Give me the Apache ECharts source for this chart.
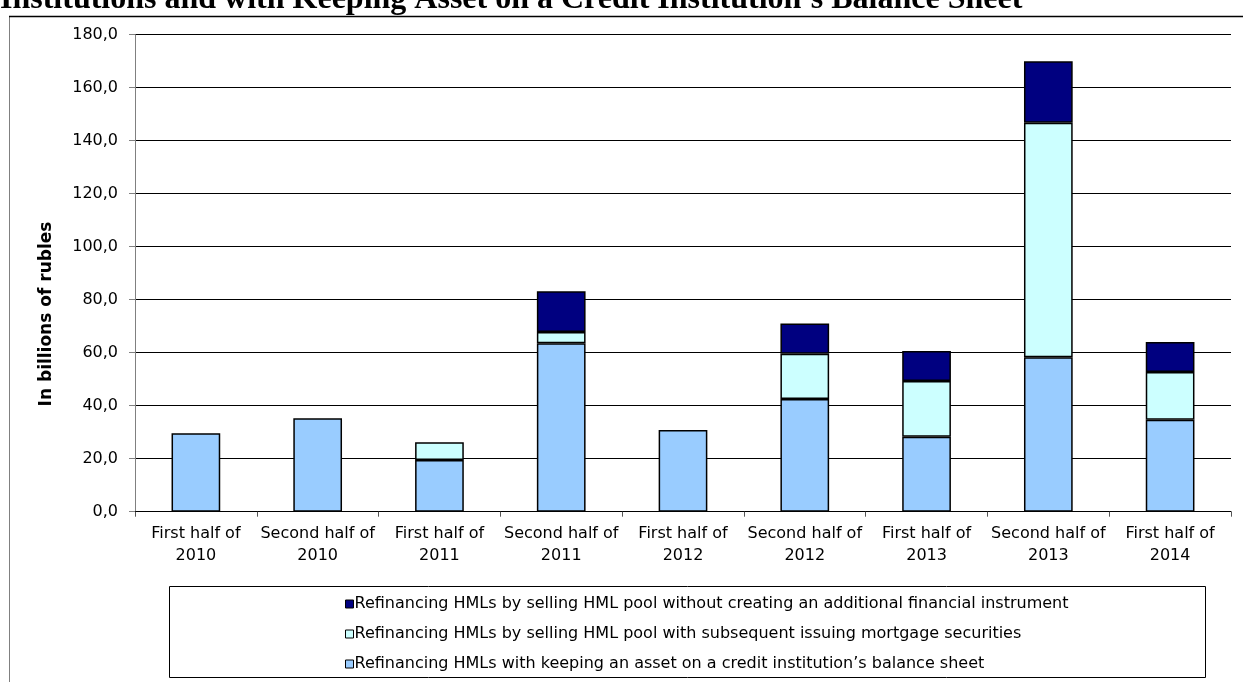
<!DOCTYPE html>
<html>
<head>
<meta charset="utf-8">
<script src="https://cdn.jsdelivr.net/npm/echarts@6/dist/echarts.min.js"></script>
<style>
html,body{margin:0;padding:0;background:#fff;}
#chart{width:1243px;height:682px;}
</style>
</head>
<body>
<div id="chart"></div>
<script>
const titleText = "Institutions and with Keeping Asset on a Credit Institution\u2019s Balance Sheet";
const yAxisName = "In billions of rubles";
const categories = [
  "First half of\n2010", "Second half of\n2010", "First half of\n2011",
  "Second half of\n2011", "First half of\n2012", "Second half of\n2012",
  "First half of\n2013", "Second half of\n2013", "First half of\n2014"
];
const seriesNames = [
  "Refinancing HMLs by selling HML pool without creating an additional financial instrument",
  "Refinancing HMLs by selling HML pool with subsequent issuing mortgage securities",
  "Refinancing HMLs with keeping an asset on a credit institution\u2019s balance sheet"
];
const keepingOnBalance = [29.6, 35.3, 19.5, 63.6, 30.8, 42.5, 28.3, 58.3, 34.7];
const withSecurities   = [0, 0, 6.7, 4.2, 0, 17.1, 21.0, 88.5, 18.0];
const withoutInstrument = [0, 0, 0, 15.4, 0, 11.4, 11.3, 23.2, 11.3];
const yTicks = { min: 0, max: 180, interval: 20 };

const FONT = '"DejaVu Sans", "Liberation Sans", Arial, sans-serif';
const chart = echarts.init(document.getElementById('chart'), null, {renderer: 'canvas'});
const border = {borderColor: '#000', borderWidth: 1.5};
const option = {
  animation: false,
  backgroundColor: '#fff',
  textStyle: {fontFamily: FONT},
  grid: {left: 135, right: 12, top: 34.7, bottom: 170.3},
  legend: {
    orient: 'vertical',
    left: 340,
    top: 591,
    itemWidth: 8,
    itemHeight: 8,
    itemGap: 14,
    icon: 'rect',
    data: [
      {name: seriesNames[0], itemStyle: {color: '#000080', borderColor: '#000', borderWidth: 1}},
      {name: seriesNames[1], itemStyle: {color: '#CCFFFF', borderColor: '#000', borderWidth: 1}},
      {name: seriesNames[2], itemStyle: {color: '#99CCFF', borderColor: '#000', borderWidth: 1}}
    ],
    textStyle: {fontSize: 16, color: '#000', lineHeight: 16, padding: [0, 0, 0, -4], fontFamily: FONT}
  },
  xAxis: {
    type: 'category',
    data: categories,
    axisLine: {lineStyle: {color: '#000', width: 1}},
    axisTick: {show: true, length: 5, lineStyle: {color: '#555'}},
    axisLabel: {fontSize: 16, color: '#000', lineHeight: 22, margin: 11, interval: 0, fontFamily: FONT}
  },
  yAxis: {
    type: 'value',
    min: yTicks.min, max: yTicks.max, interval: yTicks.interval,
    axisLine: {show: true, lineStyle: {color: '#808080', width: 1}},
    axisTick: {show: true, length: 6, lineStyle: {color: '#808080'}},
    splitLine: {lineStyle: {color: '#000', width: 1}},
    axisLabel: {fontSize: 16, color: '#000', margin: 17, fontFamily: FONT,
      formatter: v => v.toFixed(1).replace('.', ',')}
  },
  series: [
    {name: seriesNames[2], type: 'bar', stack: 's', barWidth: '40%', data: keepingOnBalance,
      itemStyle: Object.assign({color: '#99CCFF'}, border)},
    {name: seriesNames[1], type: 'bar', stack: 's', barWidth: '40%', data: withSecurities,
      itemStyle: Object.assign({color: '#CCFFFF'}, border)},
    {name: seriesNames[0], type: 'bar', stack: 's', barWidth: '40%', data: withoutInstrument,
      itemStyle: Object.assign({color: '#000080'}, border)}
  ],
  graphic: [
    {type: 'line', shape: {x1: 9.5, y1: 17, x2: 9.5, y2: 700}, style: {stroke: '#808080', lineWidth: 1}, silent: true},
    {type: 'line', shape: {x1: 9, y1: 16.5, x2: 1243, y2: 16.5}, style: {stroke: '#000', lineWidth: 1.5}, silent: true},
    {type: 'rect', shape: {x: 169.5, y: 586.5, width: 1036, height: 91}, style: {fill: 'none', stroke: '#000', lineWidth: 1}, silent: true, z: -1},
    {type: 'text', x: 0, y: 16, style: {text: titleText, font: 'bold 32px "Liberation Serif", "Times New Roman", serif', fill: '#000', verticalAlign: 'bottom', align: 'left'}, silent: true},
    {type: 'text', x: 47, y: 314, rotation: Math.PI / 2, style: {text: yAxisName, font: 'bold 17px ' + FONT, fill: '#000', align: 'center', verticalAlign: 'middle'}, silent: true}
  ]
};
option.series.forEach(s => {
  s.data = s.data.map(v => v === 0 ? {value: 0, itemStyle: {borderWidth: 0}} : v);
});
chart.setOption(option);
</script>
</body>
</html>
